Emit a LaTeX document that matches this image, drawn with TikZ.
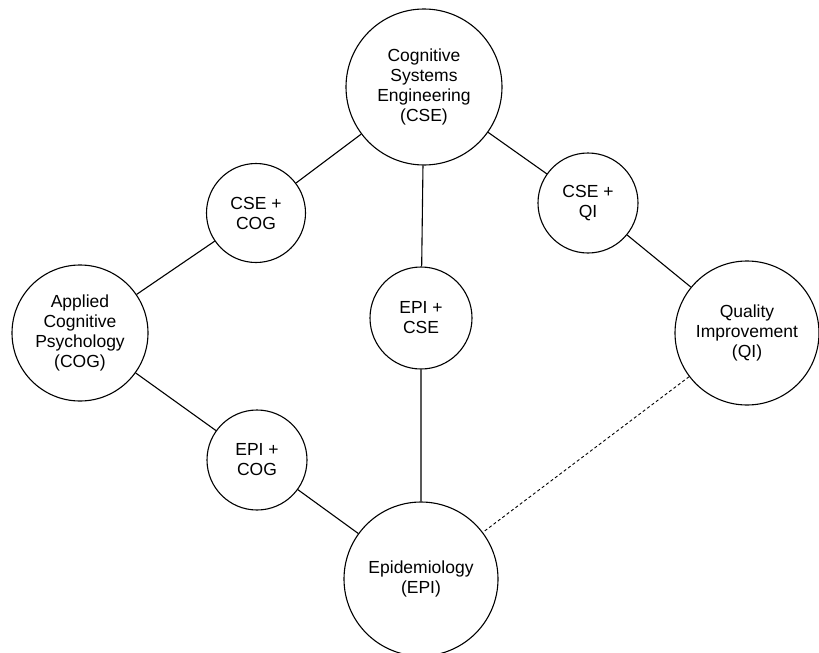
\documentclass[tikz,border=0pt]{standalone}
\usepackage{fontspec}
\setmainfont{Liberation Sans}
\usetikzlibrary{positioning}

\begin{document}
\begin{tikzpicture}[x=1pt, y=-1pt,
      field/.style={draw, circle, line width=1.1pt, align=center, inner sep=0pt,
         font=\fontsize{17.5}{20}\selectfont},
      link/.style={line width=1.1pt},
      weaklink/.style={line width=0.9pt, dash pattern=on 3pt off 2.5pt}]
      \useasboundingbox (0,0) rectangle (819,653);
      % Disciplines
      \node[field, minimum size=156pt] (cse) at (424,87) {Cognitive\\Systems\\Engineering\\(CSE)};
      \node[field, minimum size=136pt] (cog) at (80,333) {Applied\\Cognitive\\Psychology\\(COG)};
      \node[field, minimum size=144pt] (qi) at (747,333) {Quality\\Improvement\\(QI)};
      \node[field, minimum size=154pt] (epi) at (421,579) {Epidemiology\\(EPI)};
      % Overlaps
      \node[field, minimum size=99pt] (csecog) at (256,213) {CSE +\\COG};
      \node[field, minimum size=100pt] (cseqi) at (588,203) {CSE +\\QI};
      \node[field, minimum size=102pt] (epicse) at (421,318) {EPI +\\CSE};
      \node[field, minimum size=100pt] (epicog) at (257,460) {EPI +\\COG};
      % Links
      \draw[link] (cse) -- (csecog) -- (cog);
      \draw[link] (cse) -- (cseqi) -- (qi);
      \draw[link] (cse) -- (epicse) -- (epi);
      \draw[link] (cog) -- (epicog) -- (epi);
      \draw[weaklink] (qi) -- (epi);
   \end{tikzpicture}
\end{document}
